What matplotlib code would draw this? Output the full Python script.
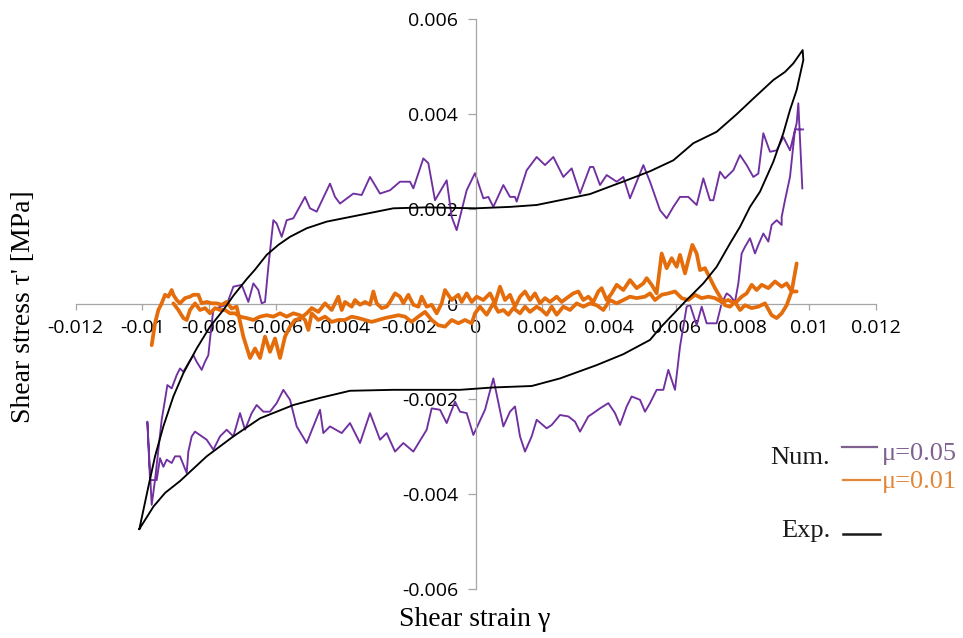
import matplotlib
matplotlib.use("Agg")
import matplotlib.pyplot as plt
from matplotlib.lines import Line2D

plt.rcParams['font.family'] = ['Open Sans', 'DejaVu Sans']

# ---------------- data ----------------
x_ticks = [-0.012, -0.010, -0.008, -0.006, -0.004, -0.002, 0.0, 0.002, 0.004, 0.006, 0.008, 0.010, 0.012]
x_tick_labels = ['-0.012', '-0.01', '-0.008', '-0.006', '-0.004', '-0.002', '0', '0.002', '0.004', '0.006', '0.008', '0.01', '0.012']
y_ticks = [-0.006, -0.004, -0.002, 0.0, 0.002, 0.004, 0.006]
y_tick_labels = ['-0.006', '-0.004', '-0.002', '0', '0.002', '0.004', '0.006']

exp_x = [-0.01009, -0.00982, -0.00962, -0.00937, -0.00907, -0.00877, -0.00837, -0.00797, -0.00757,
         -0.00727, -0.00687, -0.00662, -0.00627, -0.00592, -0.00557, -0.00507, -0.00447, -0.00347,
         -0.00247, -0.00147, 0.0, 0.00103, 0.00183, 0.00253, 0.00343, 0.00453, 0.00523, 0.00593,
         0.00653, 0.00723, 0.00783, 0.00833, 0.00893, 0.00928, 0.00953, 0.00981, 0.00983, 0.00963,
         0.00943, 0.00923, 0.00893, 0.00853, 0.00823, 0.00793, 0.00763, 0.00723, 0.00683, 0.00633,
         0.00553, 0.00523, 0.00443, 0.00363, 0.00253, 0.00168, 0.00053, -0.00047, -0.00247, -0.00377,
         -0.00467, -0.00547, -0.00647, -0.00727, -0.00807, -0.00887, -0.00932, -0.00967, -0.01009]
exp_y = [-0.00473, -0.00384, -0.0032, -0.00257, -0.00194, -0.00145, -0.00093, -0.00047, -0.00012,
         0.00018, 0.00053, 0.00073, 0.00104, 0.00125, 0.00142, 0.0016, 0.00174, 0.00188,
         0.00202, 0.00204, 0.00202, 0.00205, 0.00209, 0.00219, 0.00232, 0.00261, 0.0028, 0.00303,
         0.00339, 0.00363, 0.004, 0.00433, 0.00472, 0.00489, 0.00507, 0.00535, 0.00514, 0.00451,
         0.00409, 0.0036, 0.003, 0.00237, 0.00205, 0.00163, 0.00128, 0.00079, 0.00044, 0.00009,
         -0.0005, -0.00075, -0.00105, -0.00128, -0.00156, -0.00172, -0.00175, -0.0018, -0.0018, -0.00182,
         -0.00197, -0.00212, -0.0024, -0.00278, -0.0032, -0.00372, -0.00397, -0.00426, -0.00473]

mu05_x = [0.00982, 0.00958, 0.00943, 0.00928, 0.00918, 0.00918, 0.00903, 0.00888, 0.00878, 0.00863,
          0.00848, 0.00838, 0.00823, 0.00808, 0.00798, 0.00788, 0.00778, 0.00763, 0.00753, 0.00738,
          0.00723, 0.00708, 0.00693, 0.00678, 0.00663, 0.00643, 0.00633, 0.00613, 0.00598, 0.00578,
          0.00563, 0.00543, 0.00523, 0.00508, 0.00493, 0.00468, 0.00453, 0.00433, 0.00418, 0.00398,
          0.00373, 0.00353, 0.00338, 0.00313, 0.00298, 0.00278, 0.00253, 0.00228, 0.00213, 0.00183,
          0.00168, 0.00148, 0.00133, 0.00118, 0.00103, 0.00083, 0.00053, 0.00028, -0.00007, -0.00027,
          -0.00047, -0.00062, -0.00087, -0.00107, -0.00132, -0.00147, -0.00187, -0.00217, -0.00242, -0.00267,
          -0.00287, -0.00317, -0.00347, -0.00377, -0.00402, -0.00437, -0.00457, -0.00467, -0.00507, -0.00537,
          -0.00557, -0.00577, -0.00597, -0.00617, -0.00637, -0.00657, -0.00672, -0.00692, -0.00707, -0.00727,
          -0.00747, -0.00767, -0.00787, -0.00807, -0.00842, -0.00852, -0.00862, -0.00867, -0.00887, -0.00902,
          -0.00912, -0.00927, -0.00937, -0.00947, -0.00957, -0.00977, -0.00985, -0.00972, -0.00962, -0.00952,
          -0.00942, -0.00932, -0.00925, -0.00912, -0.00897, -0.00887, -0.00877, -0.00862, -0.00847, -0.00837,
          -0.00822, -0.00812, -0.00802, -0.00792, -0.00787, -0.00777, -0.00747, -0.00727, -0.00702, -0.00682,
          -0.00667, -0.00652, -0.00642, -0.00632, -0.00622, -0.00607, -0.00597, -0.00582, -0.00567, -0.00547,
          -0.00512, -0.00497, -0.00477, -0.00437, -0.00422, -0.00407, -0.00367, -0.00342, -0.00317, -0.00287,
          -0.00257, -0.00227, -0.00197, -0.00187, -0.00157, -0.00142, -0.00122, -0.00087, -0.00072, -0.00057,
          -0.00027, -0.00002, 0.00023, 0.00038, 0.00053, 0.00083, 0.00103, 0.00118, 0.00123, 0.00153,
          0.00183, 0.00208, 0.00233, 0.00263, 0.00288, 0.00313, 0.00343, 0.00353, 0.00373, 0.00393,
          0.00423, 0.00443, 0.00463, 0.00503, 0.00523, 0.00553, 0.00573, 0.00593, 0.00613, 0.00638,
          0.00663, 0.00683, 0.00703, 0.00713, 0.00733, 0.00748, 0.00773, 0.00793, 0.00813, 0.00833,
          0.00848, 0.00863, 0.00883, 0.00903, 0.00923, 0.00943, 0.00963, 0.00968, 0.0098]
mu05_y = [0.00368, 0.00368, 0.00268, 0.00219, 0.00184, 0.00167, 0.00177, 0.00167, 0.00132, 0.00149,
          0.00125, 0.00107, 0.00139, 0.00121, 0.00107, 0.00044, 0.00005, 0.00018, 0.00023, 0.00002,
          -0.0004, -0.0004, -0.0004, -0.00005, -0.00044, -0.00001, -0.00005, -0.00089, -0.0018, -0.00138,
          -0.0018, -0.0018, -0.00208, -0.00226, -0.00201, -0.00194, -0.00215, -0.00254, -0.00229, -0.00208,
          -0.00219, -0.00229, -0.00236, -0.00268, -0.00247, -0.00236, -0.00233, -0.00254, -0.00261, -0.00243,
          -0.00278, -0.0031, -0.00278, -0.00215, -0.00226, -0.00257, -0.00156, -0.00222, -0.00275, -0.00229,
          -0.00226, -0.00205, -0.0025, -0.00222, -0.00219, -0.00264, -0.0031, -0.00292, -0.0031, -0.00271,
          -0.00285, -0.00229, -0.00292, -0.0025, -0.00271, -0.00257, -0.00271, -0.00222, -0.00292, -0.00257,
          -0.00201, -0.0018, -0.00208, -0.00226, -0.00226, -0.00212, -0.00229, -0.00264, -0.00229, -0.00278,
          -0.00264, -0.00278, -0.00306, -0.00285, -0.00268, -0.00278, -0.0031, -0.00355, -0.0032, -0.0032,
          -0.00334, -0.00327, -0.00342, -0.00324, -0.0037, -0.0037, -0.00247, -0.00422, -0.0037, -0.00306,
          -0.00243, -0.00201, -0.0017, -0.00177, -0.00149, -0.00135, -0.00142, -0.00124, -0.00107, -0.00121,
          -0.00138, -0.00121, -0.00107, -0.0004, -0.00012, -0.00008, -0.00001, 0.00037, 0.00041, 0.00005,
          0.00044, 0.0003, 0.00002, 0.00005, 0.00079, 0.00177, 0.0017, 0.00142, 0.00177, 0.00181,
          0.00226, 0.00202, 0.00195, 0.00254, 0.00226, 0.00212, 0.00233, 0.0023, 0.00268, 0.00233,
          0.0024, 0.00258, 0.00258, 0.00244, 0.00307, 0.00297, 0.00219, 0.00261, 0.00184, 0.00156,
          0.0024, 0.00276, 0.00223, 0.00226, 0.00205, 0.00251, 0.00226, 0.00226, 0.00216, 0.00282,
          0.0031, 0.00293, 0.0031, 0.00268, 0.00286, 0.00233, 0.00289, 0.00289, 0.00251, 0.00272,
          0.00258, 0.00268, 0.00223, 0.00293, 0.00258, 0.00198, 0.00181, 0.00205, 0.00226, 0.00226,
          0.00209, 0.00265, 0.00219, 0.00219, 0.00279, 0.00265, 0.00282, 0.00314, 0.00293, 0.00268,
          0.00275, 0.0036, 0.00321, 0.00324, 0.00352, 0.00324, 0.00381, 0.00423, 0.00244]

mu01_load_x = [-0.00972, -0.00962, -0.00952, -0.00942, -0.00932, -0.00922, -0.00912, -0.00907, -0.00897, -0.00887,
               -0.00872, -0.00857, -0.00847, -0.00832, -0.00822, -0.00807, -0.00792, -0.00777, -0.00762, -0.00747,
               -0.00732, -0.00717, -0.00697, -0.00677, -0.00662, -0.00647, -0.00632, -0.00617, -0.00602, -0.00587,
               -0.00572, -0.00557, -0.00542, -0.00527, -0.00507, -0.00492, -0.00472, -0.00452, -0.00432, -0.00412,
               -0.00402, -0.00392, -0.00372, -0.00362, -0.00347, -0.00332, -0.00317, -0.00307, -0.00297, -0.00282,
               -0.00267, -0.00257, -0.00242, -0.00227, -0.00217, -0.00202, -0.00187, -0.00172, -0.00162, -0.00147,
               -0.00132, -0.00117, -0.00102, -0.00092, -0.00072, -0.00052, -0.00042, -0.00027, -0.00012, 0.00003,
               0.00023, 0.00043, 0.00058, 0.00073, 0.00088, 0.00103, 0.00118, 0.00133, 0.00148, 0.00163,
               0.00178, 0.00193, 0.00208, 0.00223, 0.00243, 0.00258, 0.00273, 0.00293, 0.00308, 0.00323,
               0.00338, 0.00353, 0.00368, 0.00378, 0.00393, 0.00408, 0.00423, 0.00443, 0.00463, 0.00483,
               0.00503, 0.00513, 0.00528, 0.00543, 0.00558, 0.00573, 0.00588, 0.00603, 0.00613, 0.00628,
               0.00638, 0.0065, 0.00663, 0.00673, 0.00688, 0.00703, 0.00718, 0.00733, 0.00748, 0.00763,
               0.00778, 0.00793, 0.00808, 0.00828, 0.00848, 0.00868, 0.00888, 0.00903, 0.00918, 0.00933,
               0.00948, 0.00956, 0.00963]
mu01_load_y = [-0.00086, -0.0004, -0.00012, 0.00002, 0.0002, 0.00016, 0.0003, 0.0002, 0.00009, 0.00002,
               0.00013, 0.00016, 0.0002, 0.0002, 0.00002, 0.00005, 0.00002, 0.00002, -0.00001, 0.00005,
               -0.00009, -0.00005, -0.00068, -0.00113, -0.00093, -0.00113, -0.00068, -0.001, -0.00072, -0.00113,
               -0.00068, -0.00047, -0.00033, -0.0003, -0.00019, -0.00008, -0.00016, 0.00002, -0.00012, 0.00016,
               -0.00012, 0.00005, -0.00005, 0.00009, -0.00001, 0.00005, -0.00001, 0.00027, 0.00002, -0.00008,
               -0.00005, 0.00005, 0.00023, 0.00016, 0.00002, 0.0002, -0.00001, -0.00005, 0.00016, -0.00005,
               -0.00001, -0.00019, 0.00002, 0.0003, 0.00009, 0.0002, 0.00005, 0.00023, 0.00005, 0.00016,
               0.00009, 0.00023, 0.00002, 0.00037, 0.00009, 0.0002, -0.00005, 0.00016, 0.00027, 0.00009,
               0.00023, 0.00002, 0.00013, 0.00005, 0.00016, 0.00005, 0.00013, 0.00023, 0.00027, 0.00009,
               0.00016, 0.00005, 0.00027, 0.00034, 0.00009, 0.00023, 0.00041, 0.0003, 0.00051, 0.00034,
               0.00044, 0.00055, 0.00041, 0.00023, 0.00107, 0.00076, 0.00097, 0.00079, 0.00104, 0.00065,
               0.00093, 0.00125, 0.00107, 0.00072, 0.00076, 0.00055, 0.00034, 0.00016, -0.00002, -0.00005,
               0.00005, -0.00012, -0.00002, -0.00008, -0.00005, 0.00002, -0.00023, -0.00029, -0.00019, -0.00002,
               0.00027, 0.00058, 0.00086]

mu01_unload_x = [0.00963, 0.00948, 0.00933, 0.00918, 0.00898, 0.00878, 0.00858, 0.00843, 0.00828, 0.00813,
                 0.00798, 0.00778, 0.00758, 0.00738, 0.00718, 0.00698, 0.00678, 0.00658, 0.00638, 0.00618,
                 0.00598, 0.00578, 0.00558, 0.00538, 0.00523, 0.00508, 0.00483, 0.00463, 0.00443, 0.00423,
                 0.00403, 0.00383, 0.00363, 0.00343, 0.00323, 0.00303, 0.00283, 0.00263, 0.00243, 0.00228,
                 0.00213, 0.00198, 0.00183, 0.00163, 0.00148, 0.00133, 0.00113, 0.00098, 0.00083, 0.00068,
                 0.00053, 0.00033, 0.00013, -0.00002, -0.00012, -0.00032, -0.00052, -0.00072, -0.00092, -0.00112,
                 -0.00132, -0.00152, -0.00172, -0.00192, -0.00212, -0.00232, -0.00252, -0.00272, -0.00292, -0.00312,
                 -0.00332, -0.00352, -0.00372, -0.00392, -0.00412, -0.00432, -0.00452, -0.00472, -0.00492, -0.00502,
                 -0.00512, -0.00527, -0.00547, -0.00567, -0.00587, -0.00607, -0.00627, -0.00647, -0.00667, -0.00687,
                 -0.00707, -0.00722, -0.00737, -0.00752, -0.00767, -0.00782, -0.00797, -0.00812, -0.00827, -0.00842,
                 -0.00857, -0.00867, -0.00877, -0.00892, -0.00907]
mu01_unload_y = [0.00027, 0.00027, 0.00044, 0.00037, 0.00048, 0.00034, 0.00041, 0.0003, 0.00041, 0.00023,
                 0.00016, 0.00002, 0.00009, 0.00005, 0.00013, 0.00016, 0.00013, 0.0002, 0.00009, 0.00013,
                 0.00027, 0.00023, 0.0002, 0.00009, 0.00023, 0.00016, 0.00013, 0.00016, 0.00009, 0.00002,
                 0.00009, -0.00012, -0.00002, 0.00002, -0.00005, 0.00002, -0.00012, -0.00005, -0.00022, -0.00005,
                 -0.00022, -0.00012, -0.00005, -0.00016, -0.00005, -0.00019, -0.00008, -0.00022, -0.00012, -0.00016,
                 0.00002, -0.00022, -0.00005, -0.00019, -0.0004, -0.00033, -0.0004, -0.00033, -0.00047, -0.00044,
                 -0.00033, -0.00016, -0.00026, -0.00037, -0.00026, -0.00023, -0.00026, -0.00029, -0.00033, -0.00037,
                 -0.00033, -0.00029, -0.00026, -0.00033, -0.00033, -0.00037, -0.00026, -0.00033, -0.00019, -0.00054,
                 -0.00033, -0.00023, -0.00019, -0.00026, -0.00019, -0.00026, -0.00023, -0.00026, -0.00033, -0.00029,
                 -0.00026, -0.00019, -0.00019, -0.00012, -0.00012, -0.00008, -0.00019, -0.00008, -0.00012, 0.00002,
                 -0.00012, -0.00033, -0.00029, -0.00012, 0.00002]

# ---------------- styling ----------------
C_PURPLE = '#7030A0'
C_ORANGE = '#E46C0A'
C_AXIS = '#a6a6a6'

fig = plt.figure(figsize=(9.63, 6.38), dpi=100)
ax = fig.add_axes([0.0786, 0.0762, 0.8307, 0.8937])

ax.plot(mu05_x, mu05_y, color=C_PURPLE, lw=1.35, zorder=2)
ax.plot(mu01_load_x, mu01_load_y, color=C_ORANGE, lw=2.7, zorder=3,
        solid_joinstyle='round', solid_capstyle='round')
ax.plot(mu01_unload_x, mu01_unload_y, color=C_ORANGE, lw=2.7, zorder=3,
        solid_joinstyle='round', solid_capstyle='round')
ax.plot(exp_x, exp_y, color='black', lw=1.35, zorder=4)

ax.set_xlim(-0.012, 0.012)
ax.set_ylim(-0.006, 0.006)
ax.set_xticks(x_ticks)
ax.set_xticklabels(x_tick_labels)
ax.set_yticks(y_ticks)
ax.set_yticklabels(y_tick_labels)

for side in ('top', 'right'):
    ax.spines[side].set_visible(False)
ax.spines['left'].set_position('zero')
ax.spines['bottom'].set_position('zero')
for side in ('left', 'bottom'):
    ax.spines[side].set_color(C_AXIS)
    ax.spines[side].set_linewidth(0.9)
ax.patch.set_visible(False)

ax.tick_params(axis='x', direction='out', length=4.5, width=0.9, color=C_AXIS, pad=6,
               labelsize=14, labelcolor='black')
ax.tick_params(axis='y', direction='out', length=5.5, width=0.9, color=C_AXIS, pad=7,
               labelsize=14, labelcolor='black')

serif = ['Liberation Serif', 'DejaVu Serif']
fig.text(0.0239, 0.5196, "Shear stress \u03c4' [MPa]", rotation=90, ha='center', va='center',
         family=serif, size=20)
fig.text(0.4933, 0.019, "Shear strain \u03b3", ha='center', va='baseline', family=serif, size=20)

# legend
fig.text(0.862, 0.2722, "Num.", ha='right', va='baseline', family=serif, size=19, color='#1a1a1a')
fig.add_artist(Line2D([0.8744, 0.9107], [0.2994, 0.2994], transform=fig.transFigure,
                      color='#7f6190', lw=1.6))
fig.text(0.9159, 0.279, "\u03bc=0.05", ha='left', va='baseline', family=serif, size=19, color='#7f6190')
fig.add_artist(Line2D([0.8754, 0.9138], [0.2476, 0.2476], transform=fig.transFigure,
                      color='#e0883a', lw=1.6))
fig.text(0.9159, 0.2346, "\u03bc=0.01", ha='left', va='baseline', family=serif, size=19, color='#e0883a')
fig.text(0.862, 0.1588, "Exp.", ha='right', va='baseline', family=serif, size=19, color='#1a1a1a')
fig.add_artist(Line2D([0.8754, 0.9138], [0.1625, 0.1625], transform=fig.transFigure,
                      color='#1a1a1a', lw=1.8))

fig.savefig('out.png', dpi=100)
